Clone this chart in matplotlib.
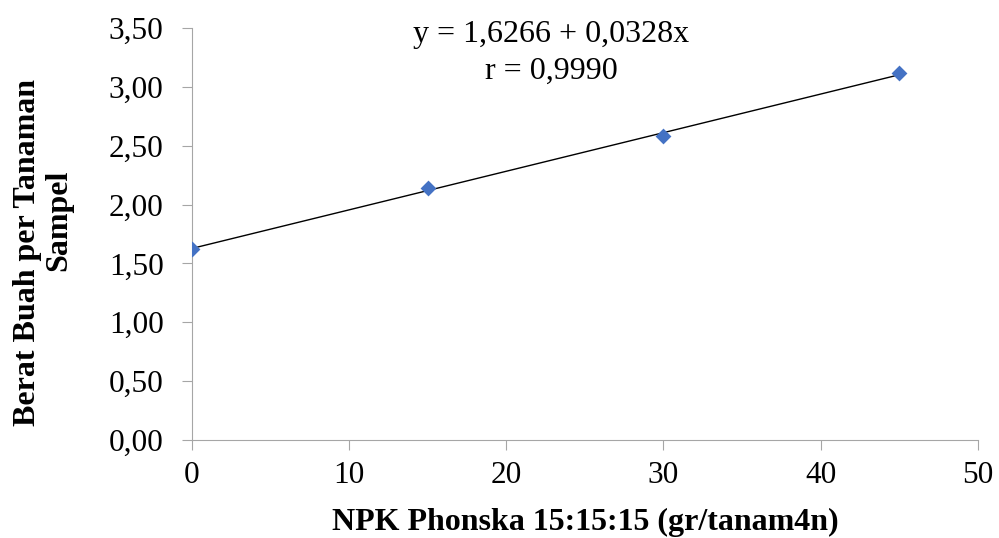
import matplotlib.pyplot as plt

# data
dose = [0, 15, 30, 45]
berat = [1.62, 2.14, 2.58, 3.12]
intercept = 1.6266
slope = 0.0328
x_ticks = [0, 10, 20, 30, 40, 50]
y_ticks = [0.0, 0.5, 1.0, 1.5, 2.0, 2.5, 3.0, 3.5]
eq_lines = ['y = 1,6266 + 0,0328x', 'r = 0,9990']
ylabel_lines = ['Berat Buah per Tanaman', 'Sampel']

plt.rcParams['font.family'] = ['Liberation Serif', 'DejaVu Serif']

W, H = 999, 538
fig = plt.figure(figsize=(W / 100, H / 100), dpi=100)
ax = fig.add_axes([0.1919, 0.1822, 0.787, 0.7658])

fit_x = [dose[0], dose[-1]]
fit_y = [intercept + slope * v for v in fit_x]
ax.plot(fit_x, fit_y, color='black', lw=1.0, zorder=2)
ax.scatter(dose, berat, marker='D', s=65, color='#4472c4', zorder=3, linewidths=0)

ax.set_xlim(0, 50)
ax.set_ylim(0, 3.5)
ax.set_xticks(x_ticks)
ax.set_yticks(y_ticks)
ax.set_yticklabels([f"{v:.2f}".replace('.', ',') for v in y_ticks])
ax.tick_params(labelsize=22.5, length=7.2, color='#a6a6a6')
ax.tick_params(axis='y', pad=13)
ax.tick_params(axis='x', pad=8)

for s in ['top', 'right']:
    ax.spines[s].set_visible(False)
for s in ['left', 'bottom']:
    ax.spines[s].set_color('#a6a6a6')

# x label, sits right at the bottom edge like the reference
fig.text(585 / W, 1 - 530 / H, 'NPK Phonska 15:15:15 (gr/tanam4n)', fontsize=23,
         fontweight='bold', ha='center', va='baseline')

# y label, two rotated lines
fig.text(35 / W, 1 - 252 / H, ylabel_lines[0], fontsize=23, fontweight='bold',
         rotation=90, rotation_mode='anchor', ha='center', va='baseline')
fig.text(66 / W, 1 - 220 / H, ylabel_lines[1], fontsize=23, fontweight='bold',
         rotation=90, rotation_mode='anchor', ha='center', va='baseline')

# regression equation
fig.text(551 / W, 1 - 42 / H, eq_lines[0], fontsize=23, ha='center', va='baseline')
fig.text(551 / W, 1 - 79 / H, eq_lines[1], fontsize=23, ha='center', va='baseline')

fig.savefig('out.png', dpi=100)
